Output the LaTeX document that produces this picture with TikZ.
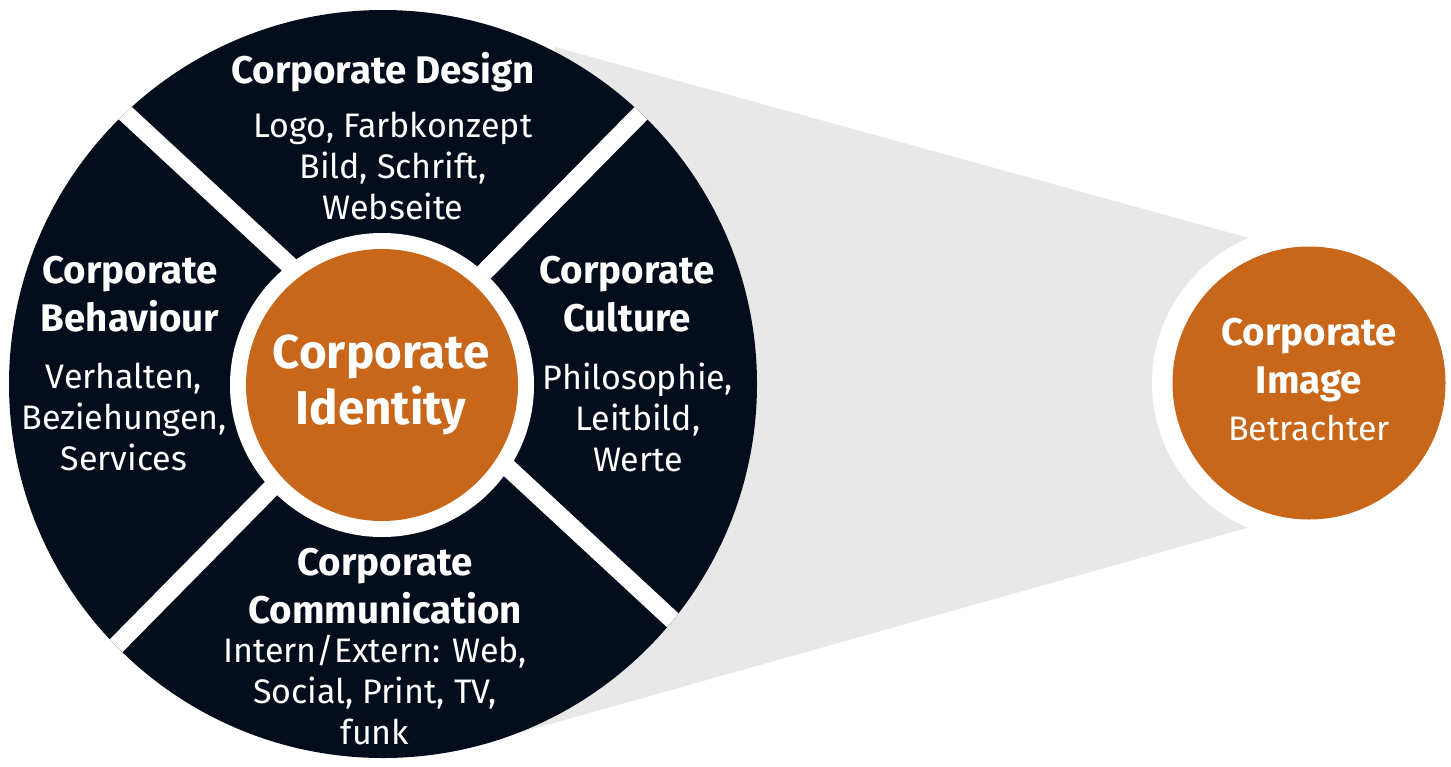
\documentclass[tikz,border=0pt]{standalone}
\usepackage{fontspec}
\setmainfont{Fira Sans}
\definecolor{navy}{HTML}{040D1C}
\definecolor{rust}{HTML}{C8661A}
\definecolor{cone}{HTML}{E8E8E8}
\tikzset{
  head/.style={text=white, align=center, inner sep=0pt, font=\bfseries\fontsize{38.5}{48}\selectfont},
  body/.style={text=white, align=center, inner sep=0pt, font=\fontsize{34}{41}\selectfont},
  big/.style={text=white, align=center, inner sep=0pt, font=\bfseries\fontsize{47.5}{56}\selectfont},
}
\begin{document}
\begin{tikzpicture}[x=1pt,y=-1pt]
\useasboundingbox (0,0) rectangle (1451,766);
% grey cone
\fill[cone] (555,47) -- (1300,252) -- (1300,513) -- (522,732) -- cycle;
% big circle
\fill[navy] (383,384) circle[radius=374pt];
\begin{scope}
  \clip (383,384) circle[radius=374pt];
  \draw[white, line width=18pt] (110,99) -- (680,627);
  \draw[white, line width=18pt] (656,98) -- (107,655);
\end{scope}
\fill[white] (382,385) circle[radius=152pt];
\fill[rust] (382,385) circle[radius=136pt];
% right circle
\fill[white] (1309,383) circle[radius=157pt];
\fill[rust] (1309,383) circle[radius=136.5pt];
% texts
\node[head] (design) at (383,72) {Corporate Design};
\node[body] (designtxt) at (393,166) {Logo, Farbkonzept\\Bild, Schrift,\\Webseite};
\node[head] (behav) at (130,294) {Corporate\\Behaviour};
\node[body] (behavtxt) at (124,417) {Verhalten,\\Beziehungen,\\Services};
\node[head] (culture) at (627,294) {Corporate\\Culture};
\node[body] (culturetxt) at (638,417) {Philosophie,\\Leitbild,\\Werte};
\node[big] (ci) at (381,385) {Corporate\\Identity};
\node[head] (comm) at (385,586) {Corporate\\Communication};
\node[body] (commtxt) at (375,690) {Intern/Extern: Web,\\Social, Print, TV,\\funk};
\node[head] (img) at (1309,360) {Corporate\\Image};
\node[body] (imgtxt) at (1309,428) {Betrachter};
\end{tikzpicture}
\end{document}
